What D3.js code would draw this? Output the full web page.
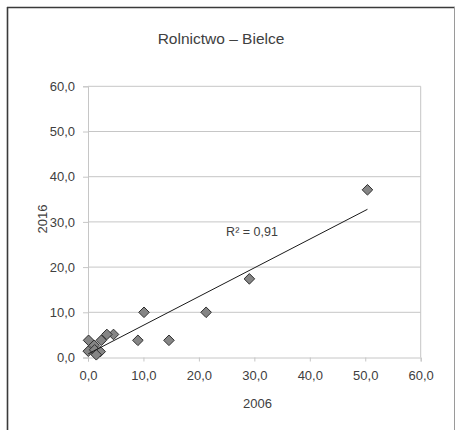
<!DOCTYPE html>
<html>
<head>
<meta charset="utf-8">
<script src="https://cdn.jsdelivr.net/npm/d3@7"></script>
<style>
  html, body { margin: 0; padding: 0; background: #fff; }
  svg { display: block; }
  text { font-family: "Liberation Sans", Arial, sans-serif; fill: #404040; }
</style>
</head>
<body>
<svg id="chart" width="455" height="430"></svg>
<script>
// ---- data ----
const chartTitle = "Rolnictwo – Bielce";
const xTitle = "2006";
const yTitle = "2016";
const r2Label = "R² = 0,91";
const xValues2006 = [50.4, 29.1, 21.3, 10.1, 9.0, 14.6, 4.6, 3.4, 2.4, 0.1, 1.1, 0.05, 1.2, 2.2, 1.5];
const yValues2016 = [37.1, 17.4, 10.0, 10.0, 3.8, 3.8, 5.1, 5.1, 3.8, 3.8, 2.7, 1.4, 1.7, 1.3, 0.6];
const tickValues = [0, 10, 20, 30, 40, 50, 60];
const tickLabels = ["0,0", "10,0", "20,0", "30,0", "40,0", "50,0", "60,0"];

const points = xValues2006.map((v, i) => ({ x: v, y: yValues2016[i] }));

const svg = d3.select("#chart");

// frame
svg.append("line").attr("x1", 7.5).attr("y1", 7).attr("x2", 7.5).attr("y2", 430)
  .attr("stroke", "#3a3a3a").attr("stroke-width", 1.6);
svg.append("line").attr("x1", 7).attr("y1", 7.5).attr("x2", 455).attr("y2", 7.5)
  .attr("stroke", "#3a3a3a").attr("stroke-width", 1.6);
svg.append("line").attr("x1", 454.5).attr("y1", 7).attr("x2", 454.5).attr("y2", 430)
  .attr("stroke", "#9a9a9a").attr("stroke-width", 1);

const pLeft = 88, pRight = 420.7, pTop = 86.3, pBottom = 357.5;
const x = d3.scaleLinear().domain([0, 60]).range([pLeft, pRight]);
const y = d3.scaleLinear().domain([0, 60]).range([pBottom, pTop]);

const gridColor = "#c6c6c6";

// horizontal gridlines
svg.append("g").selectAll("line").data(tickValues.slice(1)).join("line")
  .attr("x1", pLeft).attr("x2", pRight)
  .attr("y1", d => y(d)).attr("y2", d => y(d))
  .attr("stroke", gridColor).attr("stroke-width", 1);

// right border of plot area
svg.append("line").attr("x1", pRight).attr("x2", pRight).attr("y1", pTop).attr("y2", pBottom)
  .attr("stroke", gridColor).attr("stroke-width", 1);

// x axis
const xAxis = d3.axisBottom(x).tickValues(tickValues).tickSize(4).tickPadding(9)
  .tickFormat((d, i) => tickLabels[i]);
const gx = svg.append("g").attr("transform", `translate(0,${pBottom})`).call(xAxis);
gx.select(".domain").attr("stroke", gridColor);
gx.selectAll(".tick line").attr("stroke", gridColor);
gx.selectAll(".tick text").style("font-size", "13px").attr("fill", "#404040")
  .style("font-family", "'Liberation Sans', Arial, sans-serif");

// y axis
const yAxis = d3.axisLeft(y).tickValues(tickValues).tickSize(5).tickPadding(8)
  .tickFormat((d, i) => tickLabels[i]);
const gy = svg.append("g").attr("transform", `translate(${pLeft},0)`).call(yAxis);
gy.select(".domain").attr("stroke", gridColor);
gy.selectAll(".tick line").attr("stroke", gridColor);
gy.selectAll(".tick text").style("font-size", "13px").attr("fill", "#404040")
  .style("font-family", "'Liberation Sans', Arial, sans-serif");

// markers (diamonds)
const diamond = "M0,-5.3L5.3,0L0,5.3L-5.3,0Z";
svg.append("g").selectAll("path").data(points).join("path")
  .attr("d", diamond)
  .attr("transform", d => `translate(${x(d.x)},${y(d.y)})`)
  .attr("fill", "#858585").attr("stroke", "#2e2e2e").attr("stroke-width", 1);

// linear trendline (least squares over the data)
const mx = d3.mean(points, d => d.x), my = d3.mean(points, d => d.y);
const sxy = d3.sum(points, d => (d.x - mx) * (d.y - my));
const sxx = d3.sum(points, d => (d.x - mx) ** 2);
const slope = sxy / sxx, intercept = my - slope * mx;
const [xmin, xmax] = d3.extent(points, d => d.x);
svg.append("line")
  .attr("x1", x(xmin)).attr("y1", y(intercept + slope * xmin))
  .attr("x2", x(xmax)).attr("y2", y(intercept + slope * xmax))
  .attr("stroke", "#1a1a1a").attr("stroke-width", 1);

// texts
svg.append("text").attr("x", 221).attr("y", 43.5).attr("text-anchor", "middle")
  .style("font-size", "15.5px").text(chartTitle);
svg.append("text").attr("x", 257.5).attr("y", 408).attr("text-anchor", "middle")
  .style("font-size", "13px").text(xTitle);
svg.append("text").attr("transform", "translate(46.5,219) rotate(-90)").attr("text-anchor", "middle")
  .style("font-size", "13px").text(yTitle);
svg.append("text").attr("x", 252).attr("y", 236).attr("text-anchor", "middle")
  .style("font-size", "12.5px").text(r2Label);
</script>
</body>
</html>
